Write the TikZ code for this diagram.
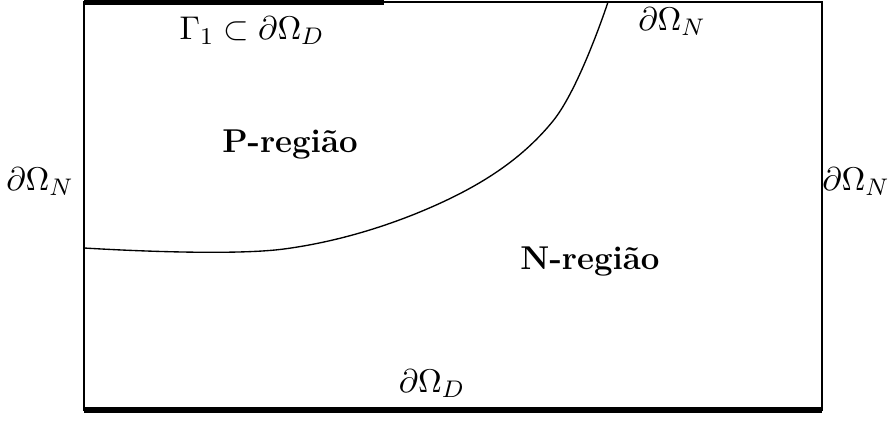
\documentclass[tikz,border=0pt]{standalone}
\usepackage{amsmath}
\begin{document}
\begin{tikzpicture}[x=0.3333pt,y=-0.3333pt,
  thinline/.style={line width=0.45pt},
  thickline/.style={line width=1.7pt},
  lbl/.style={inner sep=0pt,font=\fontsize{11}{13}\selectfont}]
\useasboundingbox (0,0) rectangle (888,421);
\coordinate (tl) at (84,2);
\coordinate (tr) at (822,2);
\coordinate (br) at (822,410);
\coordinate (bl) at (84,410);
\coordinate (tm) at (384,2);
\coordinate (cs) at (84,248);
\coordinate (ce) at (608,2);
\draw[thinline] (tl) -- (tr) -- (br) -- (bl) -- cycle;
\draw[thickline] (84,2.5) -- (384,2.5);
\draw[thickline] (84,410) -- (822,410);
\draw[thinline] plot[smooth,tension=0.6] coordinates
  {(cs) (284,249) (447,200) (553,121) (ce)};
\node[lbl] (g1) at (252,31) {$\Gamma_1\subset\partial\Omega_D$};
\node[lbl] (nt) at (672,22) {$\partial\Omega_N$};
\node[lbl] (nl) at (40,182) {$\partial\Omega_N$};
\node[lbl] (nr) at (856,182) {$\partial\Omega_N$};
\node[lbl] (pr) at (290,145) {\bfseries P-região};
\node[lbl] (nreg) at (590,262) {\bfseries N-região};
\node[lbl] (db) at (432,384) {$\partial\Omega_D$};
\end{tikzpicture}
\end{document}
